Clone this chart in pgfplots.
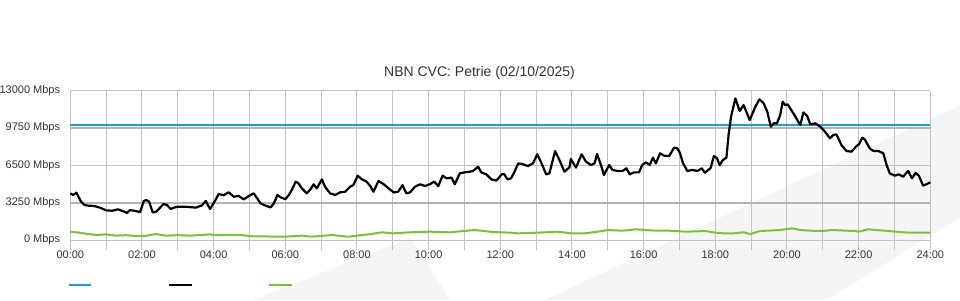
\documentclass[border=0pt]{standalone}
\usepackage{fontspec}
\setmainfont{Liberation Sans}
\usepackage{pgfplots}
\pgfplotsset{compat=1.18}
\definecolor{cvcblue}{HTML}{1B9DD9}
\definecolor{cvcgreen}{HTML}{7CC232}
\definecolor{gridgray}{HTML}{C2C2C2}
\definecolor{griddark}{HTML}{B4B4B4}
\definecolor{wm}{HTML}{F4F5F7}
\definecolor{txt}{HTML}{333333}
\begin{document}
\begin{tikzpicture}[x=1pt,y=1pt]
\useasboundingbox (0,0) rectangle (960,300);
\fill[wm] (253,0) -- (410,62) -- (450,0) -- cycle;
\fill[wm] (545,0) -- (960,195) -- (960,83) -- (827,0) -- cycle;
\begin{axis}[
  at={(70.3pt,60pt)}, anchor=south west,
  width=860pt, height=149.3pt, scale only axis,
  xmin=0, xmax=24, ymin=0, ymax=13000,
  axis line style={draw=none},
  scaled y ticks=false,
  xtick={0,2,...,24},
  xticklabels={00:00,02:00,04:00,06:00,08:00,10:00,12:00,14:00,16:00,18:00,20:00,22:00,24:00},
  minor xtick={1,3,...,23},
  ytick={0,6500,13000},
  yticklabels={0 Mbps,6500 Mbps,13000 Mbps},
  extra y ticks={3250,9750},
  extra y tick labels={3250 Mbps,9750 Mbps},
  extra y tick style={grid=major, major grid style={griddark, line width=2pt}},
  grid=both,
  major grid style={gridgray, line width=1pt},
  minor grid style={gridgray, line width=1pt},
  tick align=outside, major tick length=10pt, minor tick length=10pt,
  xtick pos=bottom, ytick pos=left,
  every tick/.style={gridgray, line width=1pt},
  ytick style={draw=none},
  xticklabel style={font=\fontsize{11}{13}\selectfont, text=txt, inner sep=1pt},
  yticklabel style={font=\fontsize{11}{13}\selectfont, text=txt, anchor=east, inner sep=0pt},
  clip=false,
]
\addplot[cvcblue, line width=2pt] coordinates {(0,10000) (24,10000)};
\addplot[cvcgreen, line width=2pt] coordinates {
(0,725) (0.25,640) (0.44,550) (0.72,435) (1.0,490) (1.27,380) (1.55,420) (1.83,350) (2.11,370) (2.39,520) (2.67,380) (3.0,420)
(3.36,380) (3.91,490) (4.0,430) (4.75,430) (5.12,320) (6.0,290)
(6.46,380) (6.74,290) (7.3,435) (7.76,290) (8.32,490) (8.69,670) (9.0,580)
(9.47,670) (10.03,725) (10.59,670) (11.29,870) (11.71,725) (12.0,670)
(12.3,640) (12.49,580) (13.04,640) (13.6,725) (13.98,580) (14.35,580) (14.72,725) (15.0,870)
(15.4,810) (15.78,930) (16.34,810) (16.71,810) (17.17,725) (17.73,780) (18.0,640)
(18.23,580) (18.51,580) (18.79,670) (18.98,520) (19.25,780) (19.81,870) (20.14,1015) (20.37,870) (20.65,810) (21.0,780)
(21.25,870) (21.9,780) (22.0,725) (22.27,930) (22.83,780) (23.39,640) (24.0,640)
};
\addplot[black, line width=2.2pt, line join=round] coordinates {
(0.00,4060) (0.08,3920) (0.17,4120) (0.30,3340) (0.39,3050) (0.50,2990) (0.67,2960) (0.83,2815)
(1.00,2580) (1.17,2550) (1.33,2670) (1.50,2470) (1.58,2350) (1.67,2610) (1.83,2520) (1.95,2430)
(2.05,3400) (2.12,3480) (2.20,3340) (2.30,2400) (2.40,2470) (2.50,2800) (2.60,3130) (2.70,3050) (2.80,2700) (2.90,2820)
(3.00,2900) (3.17,2900) (3.33,2870) (3.50,2820) (3.67,3000) (3.78,3400) (3.90,2700)
(4.00,3200) (4.14,4000) (4.28,3900) (4.42,4150) (4.56,3770) (4.70,3830) (4.84,3540) (4.98,3830)
(5.12,4060) (5.21,3650) (5.31,3190) (5.45,2990) (5.59,2840) (5.68,3190) (5.78,3920) (5.87,3720)
(6.00,3550) (6.10,3920) (6.18,4350) (6.29,5080) (6.37,4930) (6.46,4500) (6.60,4060) (6.70,4400) (6.79,4850) (6.88,4500)
(7.02,5280) (7.11,4640) (7.25,4060) (7.39,3920) (7.53,4150) (7.67,4200) (7.81,4640) (7.90,4790)
(8.02,5600) (8.13,5300) (8.27,5080) (8.37,4700) (8.46,4200) (8.60,5140) (8.74,4870) (8.88,4500)
(9.03,4140) (9.15,4200) (9.27,4780) (9.38,4060) (9.48,4150) (9.62,4640) (9.76,4850) (9.90,4700)
(10.03,4850) (10.15,5080) (10.27,4700) (10.39,5600) (10.50,5370) (10.64,5430) (10.73,4850) (10.87,5810)
(11.01,5890) (11.15,5950) (11.24,6010) (11.38,6380) (11.47,5890) (11.61,5720) (11.75,5280) (11.89,5170)
(12.04,5720) (12.11,5720) (12.20,5280) (12.30,5370) (12.39,5900) (12.50,6670) (12.62,6610) (12.77,6440) (12.91,6670)
(13.03,7460) (13.14,6760) (13.28,5720) (13.37,5800) (13.53,7750) (13.65,6960) (13.79,5950) (13.93,6330) (13.97,7050)
(14.11,6300) (14.27,7460) (14.39,6820) (14.53,6530) (14.63,6670) (14.70,7490) (14.81,6530) (14.89,5660)
(15.04,6530) (15.13,6100) (15.27,6010) (15.41,6010) (15.52,6240) (15.61,5720) (15.73,5890) (15.87,5890)
(15.96,6530) (16.06,6760) (16.17,6530) (16.26,7170) (16.34,6670) (16.46,7550) (16.57,7340) (16.71,7310) (16.85,8040) (16.94,7980)
(17.01,7600) (17.10,6670) (17.22,6010) (17.36,6100) (17.50,6010) (17.62,6240) (17.71,5860) (17.87,6270) (17.96,7310)
(18.05,7110) (18.12,6530) (18.21,6960) (18.31,7170) (18.37,9140) (18.44,10740) (18.56,12330) (18.68,11230) (18.79,11750) (18.96,10450)
(19.12,11610) (19.23,12250) (19.35,11900) (19.45,11170) (19.55,9870) (19.63,10160) (19.72,10160) (19.81,10880) (19.88,12040) (19.95,11750)
(20.02,11810) (20.19,10970) (20.37,10010) (20.46,11110) (20.56,10820) (20.65,10070) (20.79,10160) (20.93,9870)
(21.06,9430) (21.20,8850) (21.29,9140) (21.38,9200) (21.52,8270) (21.66,7750) (21.80,7690) (21.94,8180)
(22.01,8330) (22.10,8910) (22.17,8760) (22.31,7980) (22.41,7750) (22.55,7750) (22.69,7550) (22.78,6530) (22.87,5800)
(23.01,5600) (23.12,5720) (23.24,5510) (23.38,6010) (23.49,5370) (23.59,5850) (23.68,5600) (23.80,4730) (23.89,4850) (24.00,5020)
};
\end{axis}
\node[anchor=base, text=txt, font=\fontsize{14}{16}\selectfont, inner sep=0pt] at (479.5,223) {NBN CVC: Petrie (02/10/2025)};
\draw[cvcblue, line width=2pt] (69,15) -- (91,15);
\draw[black, line width=2pt] (169,15) -- (192,15);
\draw[cvcgreen, line width=2pt] (269,15) -- (292,15);
\end{tikzpicture}
\end{document}
